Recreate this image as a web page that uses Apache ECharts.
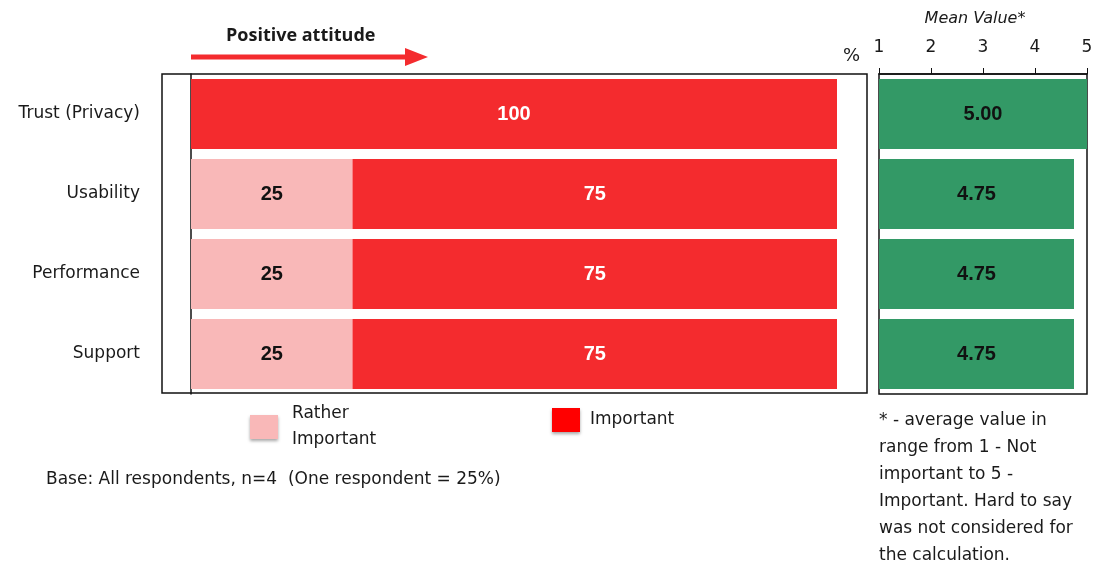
<!DOCTYPE html>
<html>
<head>
<meta charset="utf-8">
<script src="https://cdn.jsdelivr.net/npm/echarts@6/dist/echarts.min.js"></script>
<style>
  html, body { margin: 0; padding: 0; background: #fff; }
  #chart { width: 1097px; height: 567px; }
</style>
</head>
<body>
<div id="chart"></div>
<script>
// data
const categories = ['Trust (Privacy)', 'Usability', 'Performance', 'Support'];
const ratherImportant = [0, 25, 25, 25];
const important = [100, 75, 75, 75];
const meanValues = [5.00, 4.75, 4.75, 4.75];
const meanMin = 1;
const meanMax = 5;

const RED = '#f42b2e';
const PINK = '#f9b8b8';
const GREEN = '#339966';
const TXT = '#1a1a1a';
const FONT = '"DejaVu Sans", sans-serif';
const BOLDFONT = '"Open Sans", "Noto Sans", sans-serif';
const NARROW = '"Liberation Sans Narrow", "Liberation Sans", Arial, sans-serif';

const chart = echarts.init(document.getElementById('chart'), null, { renderer: 'canvas' });

const barLabel = (color) => ({
  show: true,
  position: 'inside',
  color: color,
  fontFamily: NARROW,
  fontWeight: 'bold',
  fontSize: 20,
  formatter: p => (p.value ? p.value : '')
});

const option = {
  animation: false,
  backgroundColor: '#fff',
  grid: [
    { left: 191, top: 74, width: 646, height: 320 },
    { left: 879, top: 74, width: 208, height: 320, show: true, borderColor: '#111', borderWidth: 1.5 }
  ],
  legend: [
    {
      data: ['Rather Important'],
      left: 245, top: 396,
      itemWidth: 28, itemHeight: 24,
      icon: 'rect',
      formatter: () => 'Rather\nImportant',
      textStyle: { fontFamily: FONT, fontSize: 17, color: TXT, lineHeight: 26, padding: [0, 0, 0, 9] },
      itemStyle: { shadowBlur: 3, shadowColor: 'rgba(0,0,0,0.35)', shadowOffsetY: 2 }
    },
    {
      data: [{ name: 'Important', itemStyle: { color: '#ff0000' } }],
      left: 547, top: 403,
      itemWidth: 28, itemHeight: 24,
      icon: 'rect',
      textStyle: { fontFamily: FONT, fontSize: 17, color: TXT, padding: [0, 0, 0, 5] },
      itemStyle: { shadowBlur: 3, shadowColor: 'rgba(0,0,0,0.35)', shadowOffsetY: 2 }
    }
  ],
  xAxis: [
    {
      gridIndex: 0, type: 'value', min: 0, max: 100,
      show: false
    },
    {
      gridIndex: 1, type: 'value', min: meanMin, max: meanMax, interval: 1,
      position: 'top',
      name: 'Mean Value*', nameLocation: 'middle', nameGap: 47,
      nameTextStyle: { fontFamily: FONT, fontStyle: 'italic', fontSize: 16, color: TXT, padding: [0, 16, 0, 0] },
      axisLine: { show: true, lineStyle: { color: '#111', width: 1.5 } },
      axisTick: { show: true, length: 6, lineStyle: { color: '#111' } },
      axisLabel: { margin: 18, fontFamily: FONT, fontSize: 17, color: TXT },
      splitLine: { show: false }
    }
  ],
  yAxis: [
    {
      gridIndex: 0, type: 'category', data: categories, inverse: true,
      axisLine: { show: true, lineStyle: { color: '#111', width: 1.5 } },
      axisTick: { show: false },
      axisLabel: { margin: 51, fontFamily: FONT, fontSize: 17, color: TXT }
    },
    {
      gridIndex: 1, type: 'category', data: categories, inverse: true,
      axisLine: { show: false }, axisTick: { show: false }, axisLabel: { show: false }
    }
  ],
  series: [
    {
      name: 'Rather Important', type: 'bar', stack: 'att',
      xAxisIndex: 0, yAxisIndex: 0,
      barWidth: 70,
      itemStyle: { color: PINK },
      label: barLabel('#111'),
      data: ratherImportant
    },
    {
      name: 'Important', type: 'bar', stack: 'att',
      xAxisIndex: 0, yAxisIndex: 0,
      barWidth: 70,
      itemStyle: { color: RED },
      label: barLabel('#fff'),
      data: important
    },
    {
      name: 'Mean', type: 'bar',
      xAxisIndex: 1, yAxisIndex: 1,
      barWidth: 70,
      itemStyle: { color: GREEN },
      label: {
        show: true, position: 'inside', color: '#111',
        fontFamily: NARROW, fontWeight: 'bold', fontSize: 20,
        formatter: p => p.value.toFixed(2)
      },
      data: meanValues
    }
  ],
  graphic: [
    // frame around the percentage panel
    { type: 'rect', shape: { x: 162, y: 74, width: 705, height: 319 }, style: { fill: null, stroke: '#111', lineWidth: 1.5 }, z: 10 },
    // positive attitude arrow
    { type: 'text', left: 226, top: 27, style: { text: 'Positive attitude', font: 'bold 18px ' + BOLDFONT, fill: TXT } },
    { type: 'line', shape: { x1: 191, y1: 57, x2: 407, y2: 57 }, style: { stroke: RED, lineWidth: 5 } },
    { type: 'polygon', shape: { points: [[405, 48], [428, 57], [405, 66]] }, style: { fill: RED } },
    { type: 'text', left: 843, top: 47, style: { text: '%', font: '18px ' + FONT, fill: TXT } },
    { type: 'text', left: 46, top: 471, style: { text: 'Base: All respondents, n=4  (One respondent = 25%)', font: '17px ' + FONT, fill: TXT } },
    {
      type: 'text', left: 879, top: 407,
      style: {
        text: '* - average value in\nrange from 1 - Not\nimportant to 5 -\nImportant. Hard to say\nwas not considered for\nthe calculation.',
        font: '17px ' + FONT, fill: TXT, lineHeight: 27
      }
    }
  ]
};

chart.setOption(option);
</script>
</body>
</html>
